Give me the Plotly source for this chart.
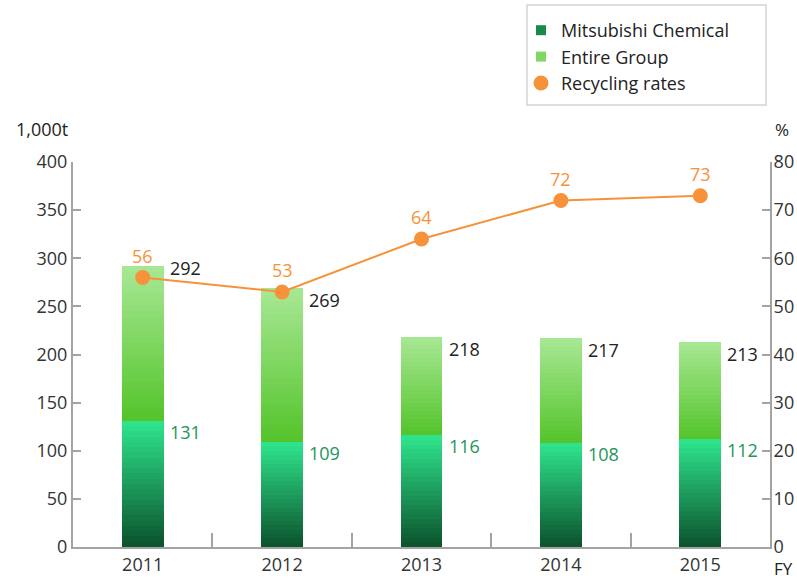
import plotly.graph_objects as go

years = ["2011", "2012", "2013", "2014", "2015"]
mitsubishi = [131, 109, 116, 108, 112]
entire_group = [292, 269, 218, 217, 213]
recycling = [56, 53, 64, 72, 73]

FONT = "Open Sans"
N = 24
BAR_W = 0.3

FIG_W, FIG_H = 797, 581
L, T = 73, 162
R = FIG_W - 770
B = FIG_H - 547
PW, PH = FIG_W - L - R, FIG_H - T - B


def lerp(c1, c2, t):
    a = [int(c1[i:i + 2], 16) for i in (1, 3, 5)]
    b = [int(c2[i:i + 2], 16) for i in (1, 3, 5)]
    return "rgb(%d,%d,%d)" % tuple(round(a[k] + (b[k] - a[k]) * t) for k in range(3))


fig = go.Figure()

# Gradient: Mitsubishi Chemical part (0 -> value)
for i in range(N):
    t = i / (N - 1)
    step = [v / N for v in mitsubishi]
    fig.add_trace(go.Bar(
        x=years, y=[s * 1.08 for s in step], base=[s * i for s in step],
        width=BAR_W, marker=dict(color=lerp("#0c552e", "#2ee38b", t), line=dict(width=0)),
        showlegend=False, hoverinfo="skip"))

# Gradient: rest of Entire Group (mitsubishi -> total)
for i in range(N):
    t = i / (N - 1)
    step = [(e - m) / N for e, m in zip(entire_group, mitsubishi)]
    top_adj = 1.08 if i < N - 1 else 1.0
    fig.add_trace(go.Bar(
        x=years, y=[s * top_adj for s in step],
        base=[m + s * i for m, s in zip(mitsubishi, step)],
        width=BAR_W, marker=dict(color=lerp("#56c52d", "#a6e792", t), line=dict(width=0)),
        showlegend=False, hoverinfo="skip"))

# Recycling rate line
fig.add_trace(go.Scatter(
    x=years, y=recycling, yaxis="y2", mode="lines+markers",
    line=dict(color="#f7923a", width=2),
    marker=dict(color="#f7923a", size=15),
    showlegend=False, hoverinfo="skip"))

# Legend entries
fig.add_trace(go.Scatter(x=[None], y=[None], mode="markers", name="Mitsubishi Chemical",
                         marker=dict(symbol="square", size=10, color="#178a4c")))
fig.add_trace(go.Scatter(x=[None], y=[None], mode="markers", name="Entire Group",
                         marker=dict(symbol="square", size=10, color="#7ed862")))
fig.add_trace(go.Scatter(x=[None], y=[None], mode="markers", name="Recycling rates",
                         marker=dict(symbol="circle", size=15, color="#f7923a")))

annotations = []
total_yshift = [-2, -12, -12, -12, -12]
for i, (tot, mc, rr, ys) in enumerate(zip(entire_group, mitsubishi, recycling, total_yshift)):
    annotations.append(dict(x=i, y=tot, xref="x", yref="y", text=str(tot), showarrow=False,
                            xanchor="left", yanchor="middle", xshift=25, yshift=ys,
                            font=dict(family=FONT, size=18, color="#222222")))
    annotations.append(dict(x=i, y=mc, xref="x", yref="y", text=str(mc), showarrow=False,
                            xanchor="left", yanchor="middle", xshift=25, yshift=-11,
                            font=dict(family=FONT, size=18, color="#23955a")))
    annotations.append(dict(x=i, y=rr, xref="x", yref="y2", text=str(rr), showarrow=False,
                            xanchor="center", yanchor="bottom", yshift=8,
                            font=dict(family=FONT, size=18, color="#f7923a")))

annotations += [
    dict(x=0, y=1.0, xref="paper", yref="paper", text="1,000t", showarrow=False,
         xanchor="right", yanchor="bottom", xshift=-3, yshift=19,
         font=dict(family=FONT, size=18, color="#222222")),
    dict(x=1, y=1.0, xref="paper", yref="paper", text="%", showarrow=False,
         xanchor="left", yanchor="bottom", xshift=3, yshift=19,
         font=dict(family=FONT, size=17, color="#222222")),
    dict(x=1, y=0, xref="paper", yref="paper", text="FY", showarrow=False,
         xanchor="left", yanchor="middle", xshift=2, yshift=-21,
         font=dict(family=FONT, size=17, color="#222222")),
]

axis_col = "#a3a3a3"
shapes = [dict(type="rect", xref="paper", yref="paper",
               x0=(527 - 73) / PW, x1=(766 - 73) / PW,
               y0=(547 - 105) / PH, y1=(547 - 5) / PH,
               line=dict(color="#d3d3d3", width=1.5), fillcolor="rgba(0,0,0,0)")]

fig.update_layout(
    width=FIG_W, height=FIG_H,
    margin=dict(l=L, r=R, t=T, b=B, autoexpand=False),
    paper_bgcolor="white", plot_bgcolor="white",
    barmode="overlay", bargap=0,
    font=dict(family=FONT, size=18, color="#222222"),
    xaxis=dict(type="category", range=[-0.5, 4.5], showline=True, linecolor=axis_col,
               linewidth=2, ticks="inside", tickson="boundaries", ticklen=14,
               tickcolor=axis_col, tickwidth=2, showgrid=False, zeroline=False,
               automargin=False,
               tickfont=dict(family=FONT, size=18, color="#333333")),
    yaxis=dict(range=[0, 400], dtick=50, showline=True, linecolor=axis_col, linewidth=2,
               ticks="inside", ticklen=8, tickcolor=axis_col, tickwidth=2,
               showgrid=False, zeroline=False, automargin=False,
               tickfont=dict(family=FONT, size=18, color="#333333")),
    yaxis2=dict(range=[0, 80], dtick=10, overlaying="y", side="right", showline=True,
                linecolor=axis_col, linewidth=2, ticks="inside", ticklen=8,
                tickcolor=axis_col, tickwidth=2, showgrid=False, zeroline=False,
                automargin=False, ticklabelstandoff=-2,
                tickfont=dict(family=FONT, size=18, color="#333333")),
    legend=dict(x=(521 - 73) / PW, y=(547 - 12) / PH, xanchor="left", yanchor="top",
                borderwidth=0, bgcolor="rgba(0,0,0,0)",
                font=dict(family=FONT, size=18, color="#222222"),
                itemwidth=30, tracegroupgap=0),
    shapes=shapes,
    annotations=annotations,
)

fig.write_html(
    "out.html",
    config={"displayModeBar": False, "staticPlot": True},
    post_script="document.body.style.margin='0';document.body.style.overflow='hidden';",
)
